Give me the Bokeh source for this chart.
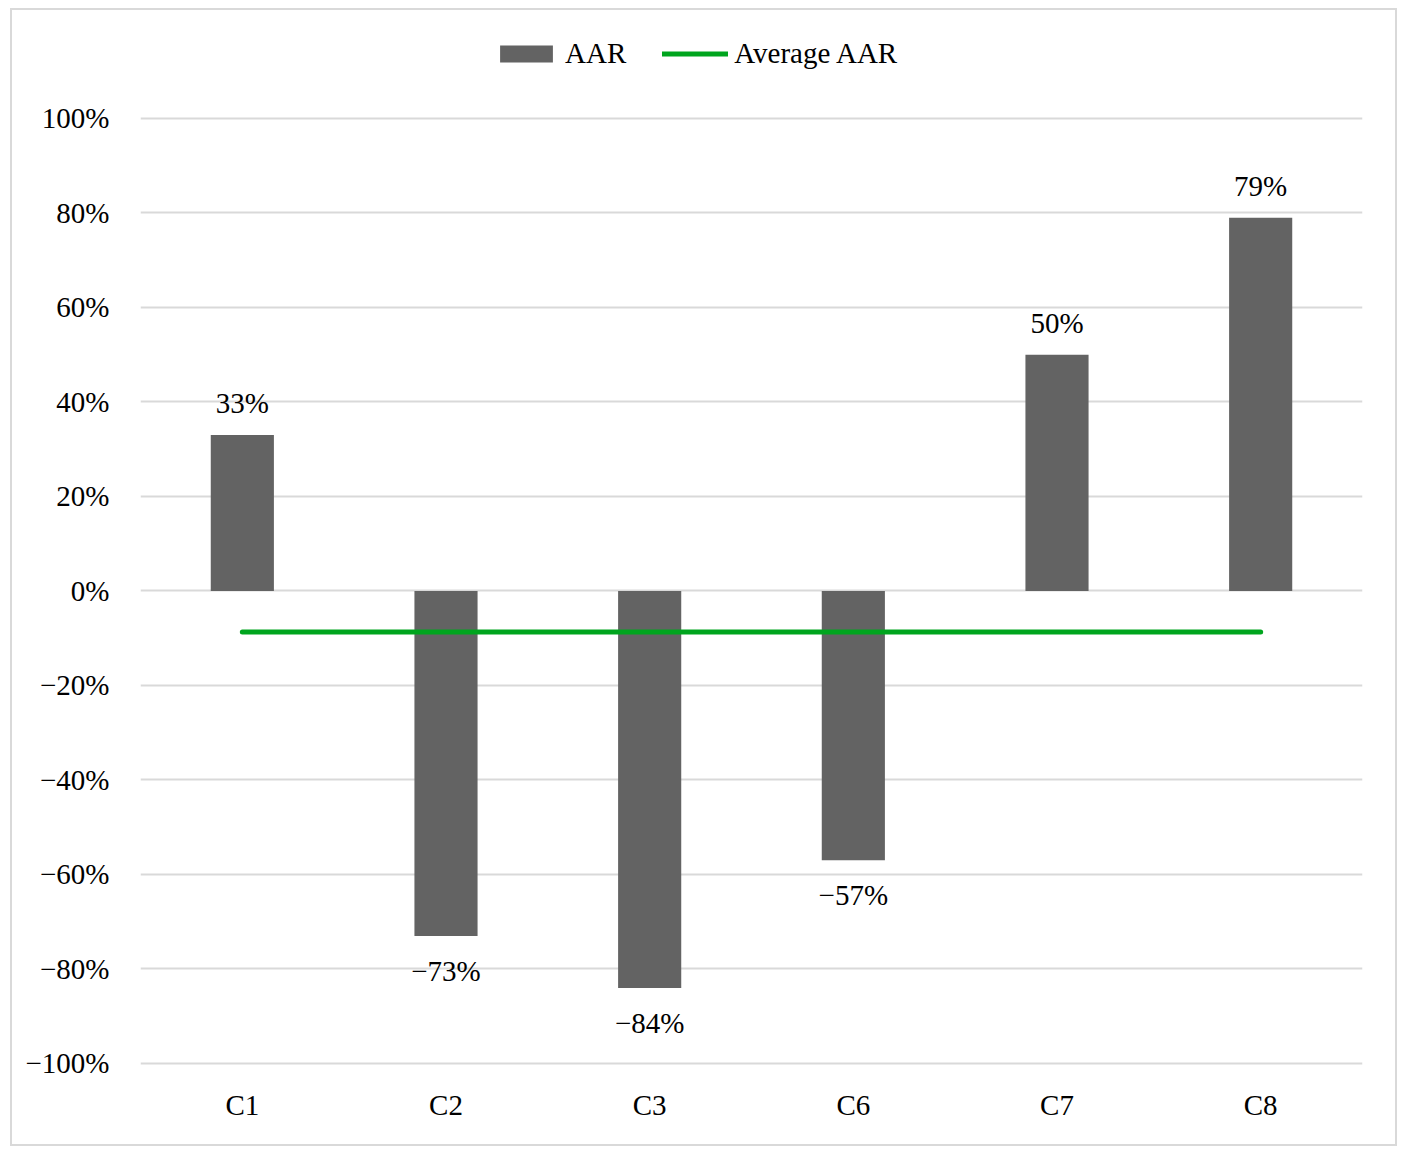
from bokeh.plotting import figure
from bokeh.models import (ColumnDataSource, FixedTicker, CustomJSTickFormatter,
                          Legend, LegendItem, Range1d, FactorRange)
from bokeh.core.properties import value
from bokeh.embed import file_html
from bokeh.resources import INLINE

categories = ["C1", "C2", "C3", "C6", "C7", "C8"]
aar = [33, -73, -84, -57, 50, 79]
avg_aar = sum(aar) / len(aar)
y_ticks = [-100, -80, -60, -40, -20, 0, 20, 40, 60, 80, 100]

FONT = "Liberation Serif"
FS = "29px"
BAR = "#636363"
GREEN = "#00a51e"
GRID = "#d9d9d9"

def fmt(v):
    return ("\u2212" if v < 0 else "") + f"{abs(v)}%"

labels = [fmt(v) for v in aar]
label_y = [v + (6.8 if v >= 0 else -7.4) for v in aar]

src = ColumnDataSource(dict(cat=categories, val=aar, lab=labels, ly=label_y))

# frame extends above 100% to hold the legend (no ticks/grid there)
p = figure(x_range=FactorRange(*categories, range_padding=0), y_range=Range1d(-101.06, 120.74),
           width=1387, height=1138, output_backend="svg", toolbar_location=None,
           min_border_left=128, min_border_right=37, min_border_top=10, min_border_bottom=80)
p.x_range.range_padding = 0
p.styles = {"border": "2px solid #d9d9d9", "margin-left": "10px", "margin-top": "8px"}
p.outline_line_color = None
p.background_fill_color = "white"
p.border_fill_color = "white"

bars = p.vbar(x="cat", top="val", bottom=0, width=0.31, source=src,
              fill_color=BAR, line_color=None)
avg_line = p.line(x=[categories[0], categories[-1]], y=[avg_aar, avg_aar],
                  line_color=GREEN, line_width=5, line_cap="round")

p.text(x="cat", y="ly", text="lab", source=src, text_font=value(FONT),
       text_font_size=FS, text_align="center", text_baseline="middle",
       text_color="black")

p.xgrid.grid_line_color = None
p.ygrid.grid_line_color = GRID
p.ygrid.grid_line_width = 2
p.yaxis.ticker = FixedTicker(ticks=y_ticks)
p.ygrid.ticker = FixedTicker(ticks=y_ticks)
p.yaxis.formatter = CustomJSTickFormatter(code="""
    return (tick < 0 ? '\\u2212' : '') + Math.abs(Math.round(tick)) + '%';
""")
for ax in (p.xaxis, p.yaxis):
    ax.axis_line_color = None
    ax.major_tick_line_color = None
    ax.minor_tick_line_color = None
    ax.major_label_text_font = FONT
    ax.major_label_text_font_size = FS
    ax.major_label_text_color = "black"
p.yaxis.major_label_standoff = 25
p.xaxis.major_label_standoff = 14

legend = Legend(items=[LegendItem(label="AAR", renderers=[bars]),
                       LegendItem(label="Average AAR", renderers=[avg_line])],
                orientation="horizontal", location=(353, 998),
                glyph_width=66, glyph_height=21, label_standoff=6, spacing=36,
                padding=0, margin=0, border_line_color=None,
                background_fill_alpha=0,
                label_text_font=FONT, label_text_font_size=FS,
                label_text_color="black")
p.add_layout(legend, "center")

open("out.html", "w").write(file_html(p, INLINE))
